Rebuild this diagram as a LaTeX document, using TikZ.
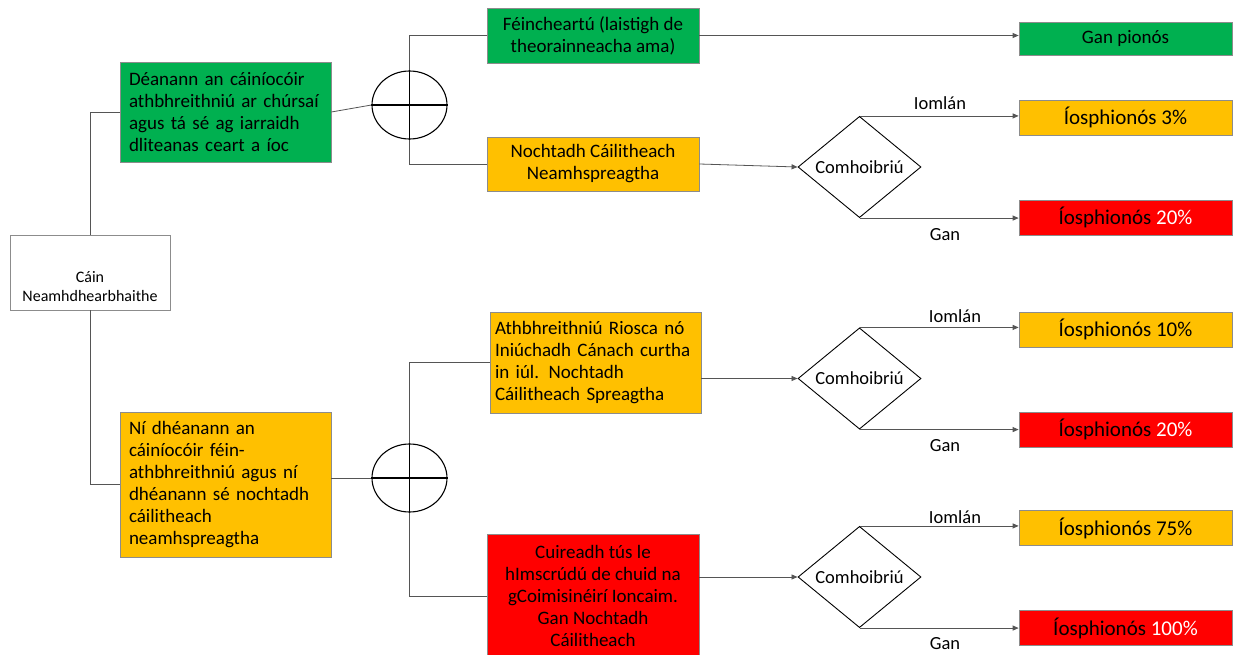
\documentclass[tikz,border=0pt]{standalone}
\usepackage{fontspec}
\setmainfont{Carlito}
\usetikzlibrary{shapes.geometric,arrows.meta}
\definecolor{cgreen}{HTML}{00B050}
\definecolor{cyellow}{HTML}{FFC000}
\definecolor{cred}{HTML}{FF0000}
\definecolor{cline}{HTML}{555555}
\definecolor{cborder}{HTML}{8C8C8C}
\tikzset{
  bx/.style={draw=cborder, line width=0.7pt, rectangle, inner sep=0pt},
  gbx/.style={bx, fill=cgreen},
  ybx/.style={bx, fill=cyellow},
  rbx/.style={bx, fill=cred},
  maintxt/.style={font=\fontsize{19}{22}\selectfont},
  restxt/.style={font=\fontsize{21}{24}\selectfont, minimum width=213pt, minimum height=35pt},
  dia/.style={draw=black, line width=0.9pt, diamond, inner sep=0pt, minimum width=123pt, minimum height=100pt, font=\fontsize{18.5}{20}\selectfont},
  circ/.style={draw=black, line width=1.1pt, ellipse, inner sep=0pt, minimum width=75pt, minimum height=68pt},
  conn/.style={draw=cline, line width=0.8pt},
  arr/.style={conn, -{Triangle[length=6pt,width=5pt]}},
  lbl/.style={font=\fontsize{18.5}{20}\selectfont}
}
\begin{document}
\begin{tikzpicture}[x=1pt,y=-1pt]
\useasboundingbox (0,0) rectangle (1235,655);
\clip (0,0) rectangle (1235,655);
\fill[white] (0,0) rectangle (1235,655);

% root
\node[bx, fill=white, minimum width=160pt, minimum height=75pt] (cain) at (90,272.5) {};
\node[font=\fontsize{16}{19}\selectfont, align=center] (caintxt) at (90,287) {Cáin\\Neamhdhearbhaithe};

% level 1
\node[gbx, maintxt, minimum width=211pt, minimum height=100pt, text width=193pt, align=left] (g1) at (225.5,112)
  {Déanann an cáiníocóir\\athbhreithniú ar chúrsaí\\agus tá sé ag iarraidh\\dliteanas ceart a íoc};
\node[ybx, maintxt, minimum width=211pt, minimum height=145pt, text width=193pt, align=left] (y1) at (225.5,484.5)
  {Ní dhéanann an\\cáiníocóir féin-\\athbhreithniú agus ní\\dhéanann sé nochtadh\\cáilitheach\\neamhspreagtha};

% circles
\node[circ] (c1) at (409.5,105) {};
\node[circ] (c2) at (409.5,478) {};

% level 2
\node[gbx, maintxt, minimum width=212pt, minimum height=55pt, align=center] (fein) at (593,35.5)
  {Féincheartú (laistigh de\\theorainneacha ama)};
\node[ybx, maintxt, minimum width=212pt, minimum height=54pt, align=center] (noch) at (593,164)
  {Nochtadh Cáilitheach\\Neamhspreagtha};
\node[ybx, maintxt, minimum width=211pt, minimum height=101pt, text width=201pt, align=left] (athb) at (595.5,362.5)
  {Athbhreithniú Riosca nó\\Iniúchadh Cánach curtha\\in iúl. Nochtadh\\Cáilitheach Spreagtha};
\node[rbx, maintxt, minimum width=212pt, minimum height=124pt, align=center] (cuir) at (593,596)
  {Cuireadh tús le\\hImscrúdú de chuid na\\gCoimisinéirí Ioncaim.\\Gan Nochtadh\\Cáilitheach};

% diamonds
\node[dia] (d1) at (859.5,167) {Comhoibriú};
\node[dia] (d2) at (859.5,378.5) {Comhoibriú};
\node[dia] (d3) at (859.5,577) {Comhoibriú};

% results
\node[gbx, font=\fontsize{19}{22}\selectfont, minimum width=213pt, minimum height=33pt] (r0) at (1125.5,38.5) {Gan pionós};
\node[ybx, restxt] (r1) at (1125.5,117.5) {Íosphionós 3\%};
\node[rbx, restxt] (r2) at (1125.5,217.5) {Íosphionós \textcolor{white}{20\%}};
\node[ybx, restxt] (r3) at (1125.5,329.5) {Íosphionós 10\%};
\node[rbx, restxt] (r4) at (1125.5,429.5) {Íosphionós \textcolor{white}{20\%}};
\node[ybx, restxt] (r5) at (1125.5,528) {Íosphionós 75\%};
\node[rbx, restxt] (r6) at (1125.5,628) {Íosphionós \textcolor{white}{100\%}};

% circle crosses
\draw[line width=1.1pt] (c1.north) -- (c1.south) (c1.west) -- (c1.east);
\draw[line width=1.1pt] (c2.north) -- (c2.south) (c2.west) -- (c2.east);

% connectors
\draw[conn] (cain.north) |- (g1.west);
\draw[conn] (cain.south) |- (y1.west);
\draw[conn] (g1.east) -- (c1.west);
\draw[conn] (y1.east |- c2.west) -- (c2.west);
\draw[conn] (c1.north) |- (fein.west);
\draw[conn] (c1.south) |- (noch.west);
\draw[conn] (c2.north) |- (athb.west);
\draw[conn] (c2.south) |- (cuir.west);

\draw[arr] (fein.east) -- (fein.east -| r0.west);
\draw[arr] (noch.east) -- (d1.west);
\draw[arr] (athb.east |- d2.west) -- (d2.west);
\draw[arr] (cuir.east |- d3.west) -- (d3.west);

\draw[arr] (d1.north) -- (d1.north -| r1.west);
\draw[arr] (d1.south) -- (d1.south -| r2.west);
\draw[arr] (d2.north) -- (d2.north -| r3.west);
\draw[arr] (d2.south) -- (d2.south -| r4.west);
\draw[arr] (d3.north) -- (d3.north -| r5.west);
\draw[arr] (d3.south) -- (d3.south -| r6.west);

% labels
\node[lbl] (l1) at (940,103) {Iomlán};
\node[lbl] (l2) at (945,235) {Gan};
\node[lbl] (l3) at (955,316) {Iomlán};
\node[lbl] (l4) at (945,446) {Gan};
\node[lbl] (l5) at (955,517) {Iomlán};
\node[lbl] (l6) at (945,644) {Gan};
\end{tikzpicture}
\end{document}
